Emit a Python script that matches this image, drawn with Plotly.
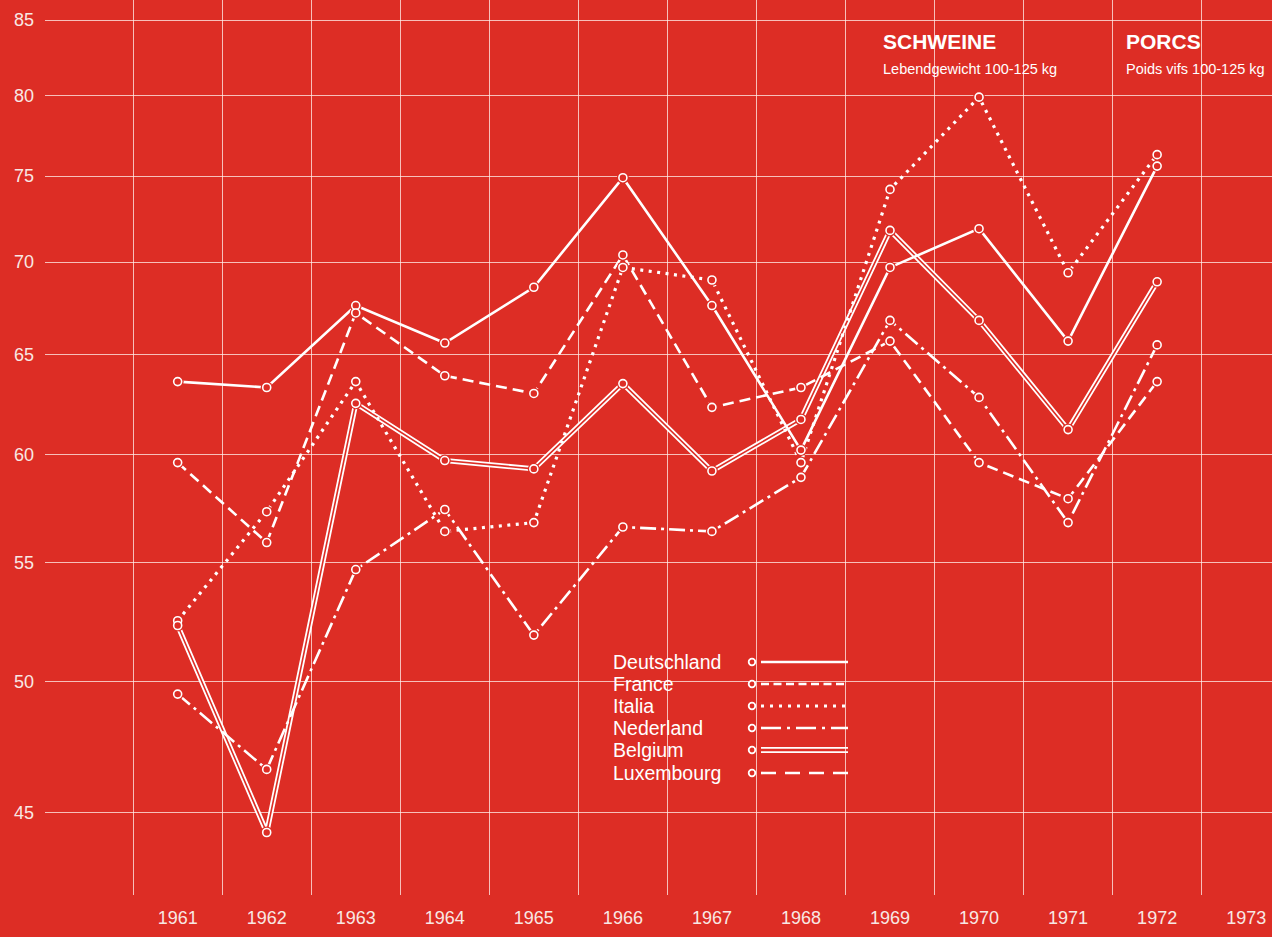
import math
import plotly.graph_objects as go

# ---------------- data ----------------
years = [1961, 1962, 1963, 1964, 1965, 1966, 1967, 1968, 1969, 1970, 1971, 1972]
deutschland = [63.6, 63.3, 67.6, 65.6, 68.6, 74.9, 67.6, 60.2, 69.7, 71.9, 65.7, 75.6]
france = [59.6, 55.9, 67.2, 63.9, 63.0, 70.4, 62.3, 63.3, 65.7, 59.6, 57.9, 63.6]
italia = [52.5, 57.3, 63.6, 56.4, 56.8, 69.7, 69.0, 59.6, 74.2, 79.9, 69.4, 76.3]
nederland = [49.5, 46.6, 54.7, 57.4, 51.9, 56.6, 56.4, 58.9, 66.8, 62.8, 56.8, 65.5]
belgium = [52.3, 44.3, 62.5, 59.7, 59.3, 63.5, 59.2, 61.7, 71.8, 66.8, 61.2, 68.9]
luxembourg = [None] * 12

series_names = ["Deutschland", "France", "Italia", "Nederland", "Belgium", "Luxembourg"]
year_ticks = list(range(1961, 1974))
y_ticks = [45, 50, 55, 60, 65, 70, 75, 80, 85]

# ---------------- style ----------------
BG = "#DD2D25"
WHITE = "#FFFFFF"
GRID = "rgba(255,240,236,0.75)"
TXT = "#F8E8E4"
FONT = "Liberation Sans, Arial, sans-serif"
W, H = 1272, 937
ML, MR, MT, MB = 45, 0, 0, 42
PW, PH = W - ML - MR, H - MT - MB


def px(x):
    return (x - ML) / PW


def py(y):
    return 1 - (y - MT) / PH


fig = go.Figure()

line_w = 2.6
# Belgium: double line (thick white, thin background-coloured core)
fig.add_trace(go.Scatter(x=years, y=belgium, mode="lines", name="Belgium",
                         line=dict(color=WHITE, width=5.2), showlegend=False))
fig.add_trace(go.Scatter(x=years, y=belgium, mode="lines", name="Belgium core",
                         line=dict(color=BG, width=1.6), showlegend=False, hoverinfo="skip"))

styles = {
    "Deutschland": dict(color=WHITE, width=line_w),
    "France": dict(color=WHITE, width=line_w, dash="11px,6px"),
    "Italia": dict(color=WHITE, width=3.2, dash="3px,5.5px"),
    "Nederland": dict(color=WHITE, width=line_w, dash="16px,5px,3px,5px"),
    "Luxembourg": dict(color=WHITE, width=line_w, dash="15px,9px"),
}
data_map = {"Deutschland": deutschland, "France": france, "Italia": italia,
            "Nederland": nederland, "Belgium": belgium, "Luxembourg": luxembourg}

for nm in ["Nederland", "France", "Italia", "Deutschland", "Luxembourg"]:
    fig.add_trace(go.Scatter(x=years, y=data_map[nm], mode="lines", name=nm,
                             line=styles[nm], showlegend=False))

# halo (gap in the lines around each point)
for nm in series_names:
    fig.add_trace(go.Scatter(x=years, y=data_map[nm], mode="markers", name=nm + " gap",
                             marker=dict(symbol="circle", size=12, color=BG, line=dict(width=0)),
                             showlegend=False, hoverinfo="skip"))
for nm in series_names:
    fig.add_trace(go.Scatter(x=years, y=data_map[nm], mode="markers", name=nm,
                             marker=dict(symbol="circle", size=8, color=BG,
                                         line=dict(color=WHITE, width=1.6)),
                             showlegend=False))

shapes = []
# background patches hiding the grid behind the title block and legend
shapes.append(dict(type="rect", xref="paper", yref="paper", layer="between",
                   x0=px(862), x1=1.0, y0=py(84), y1=py(25),
                   fillcolor=BG, line=dict(width=0)))
shapes.append(dict(type="rect", xref="paper", yref="paper", layer="between",
                   x0=px(597), x1=px(862), y0=py(796), y1=py(644),
                   fillcolor=BG, line=dict(width=0)))

annotations = []
legend_y = [662, 684, 706, 728, 750, 773]
leg_text_x, leg_circ_x, leg_l0, leg_l1 = 611, 752, 761, 848
leg_dash = {
    "Deutschland": None,
    "France": "8px,4.5px",
    "Italia": "3px,6px",
    "Nederland": "20px,6px,3px,6px",
    "Luxembourg": "15px,9px",
}
for nm, yy in zip(series_names, legend_y):
    annotations.append(dict(xref="paper", yref="paper", x=px(leg_text_x), y=py(yy),
                            xanchor="left", yanchor="middle", showarrow=False,
                            text=nm, font=dict(family=FONT, size=19.5, color=WHITE)))
    if nm == "Belgium":
        for off in (-2.2, 2.2):
            shapes.append(dict(type="line", xref="paper", yref="paper", layer="above",
                               x0=px(leg_l0), x1=px(leg_l1), y0=py(yy + off), y1=py(yy + off),
                               line=dict(color=WHITE, width=1.8)))
    else:
        ln = dict(color=WHITE, width=3 if nm == "Italia" else 2.6)
        if leg_dash[nm]:
            ln["dash"] = leg_dash[nm]
        shapes.append(dict(type="line", xref="paper", yref="paper", layer="above",
                           x0=px(leg_l0), x1=px(leg_l1), y0=py(yy), y1=py(yy), line=ln))
    shapes.append(dict(type="circle", xref="paper", yref="paper", layer="above",
                       x0=px(leg_circ_x - 3.3), x1=px(leg_circ_x + 3.3),
                       y0=py(yy + 3.3), y1=py(yy - 3.3),
                       fillcolor=BG, line=dict(color=WHITE, width=1.8)))

# title block
annotations += [
    dict(xref="paper", yref="paper", x=px(881), y=py(42), xanchor="left", yanchor="middle",
         showarrow=False, text="<b>SCHWEINE</b>", font=dict(family=FONT, size=21, color=WHITE)),
    dict(xref="paper", yref="paper", x=px(881), y=py(69), xanchor="left", yanchor="middle",
         showarrow=False, text="Lebendgewicht 100-125 kg", font=dict(family=FONT, size=14.5, color=WHITE)),
    dict(xref="paper", yref="paper", x=px(1124), y=py(42), xanchor="left", yanchor="middle",
         showarrow=False, text="<b>PORCS</b>", font=dict(family=FONT, size=21, color=WHITE)),
    dict(xref="paper", yref="paper", x=px(1124), y=py(69), xanchor="left", yanchor="middle",
         showarrow=False, text="Poids vifs 100-125 kg", font=dict(family=FONT, size=14.5, color=WHITE)),
]

y_top = 85 * math.exp(20 / 1246.8)
y_bot = 85 * math.exp(-875 / 1246.8)

fig.update_layout(
    width=W, height=H,
    margin=dict(l=ML, r=MR, t=MT, b=MB, pad=0),
    paper_bgcolor=BG, plot_bgcolor=BG,
    showlegend=False,
    shapes=shapes, annotations=annotations,
    font=dict(family=FONT, color=TXT, size=18),
    xaxis=dict(range=[1959.51, 1973.29], tickmode="array", tickvals=year_ticks,
               ticktext=[str(v) for v in year_ticks], showgrid=False, zeroline=False,
               showline=False, ticks="", ticklabelstandoff=10,
               tickfont=dict(family=FONT, size=18, color=TXT),
               minor=dict(tickmode="array", tickvals=[y - 0.5 for y in year_ticks],
                          showgrid=True, gridcolor=GRID, gridwidth=1.2, ticks="")),
    yaxis=dict(type="log", range=[math.log10(y_bot), math.log10(y_top)],
               tickmode="array", tickvals=y_ticks, ticktext=[str(v) for v in y_ticks],
               showgrid=True, gridcolor=GRID, gridwidth=1.2, zeroline=False,
               showline=False, ticks="", ticklabelstandoff=10,
               tickfont=dict(family=FONT, size=18, color=TXT)),
)

fig.write_html("out.html",
               config={"displayModeBar": False},
               post_script="document.body.style.margin='0';document.body.style.padding='0';"
                           "document.body.style.background='" + BG + "';")
